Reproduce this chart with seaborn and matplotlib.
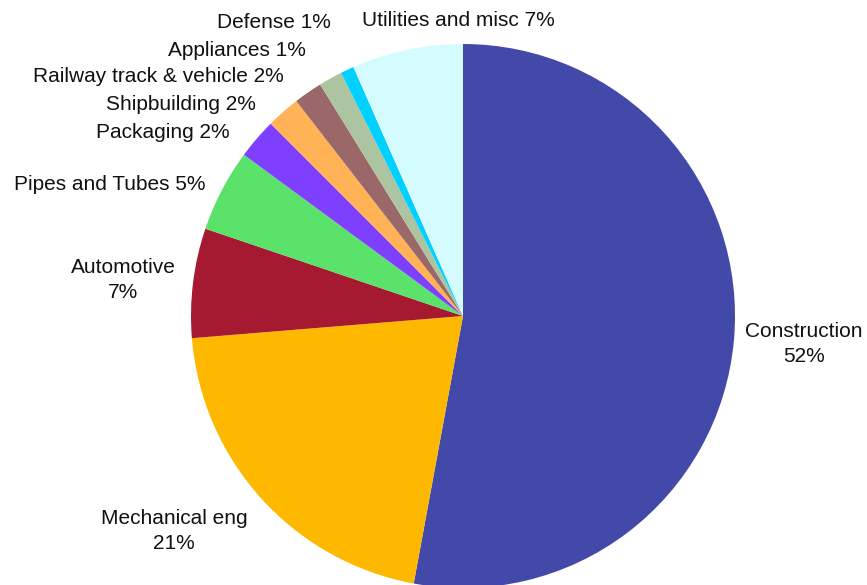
import matplotlib
matplotlib.use("Agg")
import matplotlib.pyplot as plt
import seaborn as sns

sns.set_theme(style="white")
plt.rcParams['font.family'] = ['Liberation Sans', 'DejaVu Sans']

# ---- data ----
sectors = ["Construction", "Mechanical eng", "Automotive", "Pipes and Tubes",
           "Packaging", "Shipbuilding", "Railway track & vehicle", "Appliances",
           "Defense", "Utilities and misc"]
shares = [52.9, 20.8, 6.5, 4.9, 2.4, 2.0, 1.7, 1.4, 0.8, 6.6]
pct_labels = ["52%", "21%", "7%", "5%", "2%", "2%", "2%", "1%", "1%", "7%"]
colors = ["#4349A8", "#FFB800", "#A51931", "#5BE26A", "#7F3FFF",
          "#FFB356", "#9A6868", "#ADC4A0", "#00D0FF", "#D4FCFF"]

# ---- layout (pixel positions of label centres, top-left origin) ----
W, H = 867, 585
label_pos = [(804, 344), (174, 531), (123, 280), (110, 184), (163, 132),
             (181, 104), (158, 77), (237, 50), (274, 23), (458, 20)]
two_line = [True, True, True, False, False, False, False, False, False, False]

fig = plt.figure(figsize=(W / 100, H / 100), dpi=100)
ax = fig.add_axes([0, 0, 1, 1])
ax.set_xlim(0, W)
ax.set_ylim(0, H)
ax.set_aspect("equal")
ax.axis("off")

ax.pie(shares, colors=colors, startangle=90, counterclock=False,
       center=(463, H - 316), radius=272, frame=True,
       wedgeprops=dict(linewidth=0))
ax.set_xlim(0, W)
ax.set_ylim(0, H)
ax.axis("off")

for name, pct, (x, y), tl in zip(sectors, pct_labels, label_pos, two_line):
    txt = f"{name}\n{pct}" if tl else f"{name} {pct}"
    ax.text(x, H - y, txt, ha="center", va="center", fontsize=15,
            color="#111111", linespacing=1.4)

fig.savefig("out.png", dpi=100)
